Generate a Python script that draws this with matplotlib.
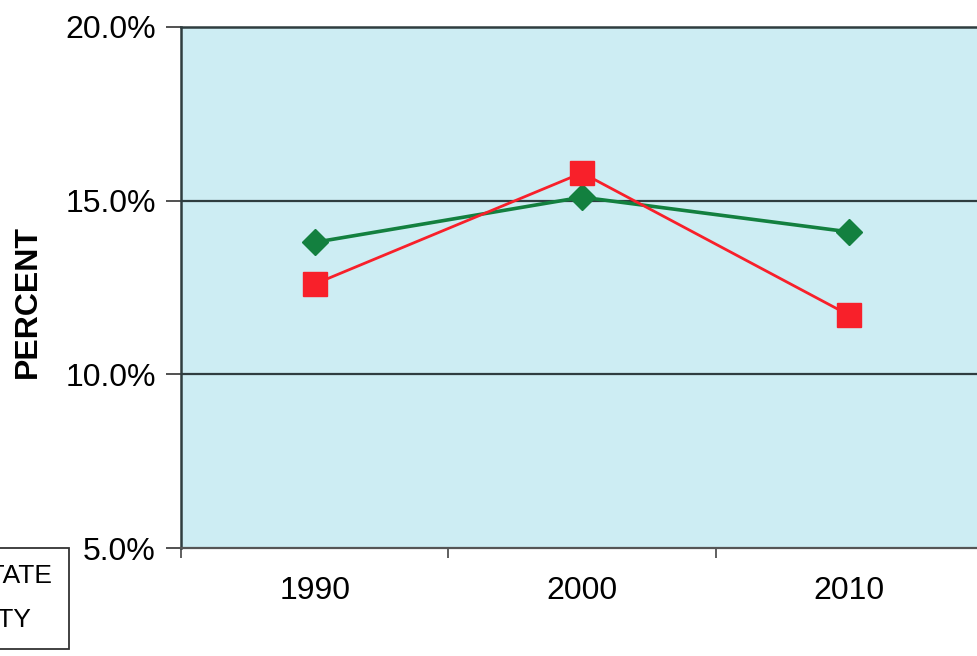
import matplotlib
matplotlib.use("Agg")
import matplotlib.pyplot as plt
from matplotlib.lines import Line2D
from matplotlib.ticker import FixedLocator, PercentFormatter

years = ["1990", "2000", "2010"]
state_pct = [13.8, 15.1, 14.1]
city_pct = [12.6, 15.8, 11.7]
series_labels = ["STATE", "CITY"]
y_ticks = [5.0, 10.0, 15.0, 20.0]

plt.rcParams["font.family"] = ["Liberation Sans", "DejaVu Sans"]

W, H = 977, 656
fig = plt.figure(figsize=(W / 100, H / 100), dpi=100)
fig.patch.set_facecolor("white")

left, right, top, bottom = 181, 983, 27, 548
ax = fig.add_axes([left / W, 1 - bottom / H, (right - left) / W, (bottom - top) / H])
ax.set_facecolor("#cdedf3")

x = list(range(len(years)))
green = "#13803f"
red = "#f8202a"
ax.plot(x, state_pct, color=green, lw=2.6, marker="D", markersize=13,
        markerfacecolor=green, markeredgecolor=green, zorder=4)
ax.plot(x, city_pct, color=red, lw=2.0, marker="s", markersize=17,
        markerfacecolor=red, markeredgecolor=red, zorder=5)

ax.set_xlim(-0.5, len(years) - 0.5)
ax.set_ylim(y_ticks[0], y_ticks[-1])

ax.set_yticks(y_ticks)
ax.yaxis.set_major_formatter(PercentFormatter(decimals=1))
ax.tick_params(axis="y", direction="out", length=11, width=1.2, color="#333",
               labelsize=23, pad=7)
ax.set_xticks(x)
ax.set_xticklabels(years)
ax.tick_params(axis="x", which="major", length=0, labelsize=23, pad=20)
ax.xaxis.set_minor_locator(FixedLocator([-0.5, 0.5, 1.5]))
ax.tick_params(axis="x", which="minor", direction="out", length=7, width=1.2,
               color="#444")

grid_c = "#2f3d3f"
for yv in y_ticks[1:-1]:
    ax.axhline(yv, color=grid_c, lw=1.6, zorder=2)

for side in ["left", "top"]:
    ax.spines[side].set_color(grid_c)
    ax.spines[side].set_linewidth(1.8)
ax.spines["bottom"].set_color("#555")
ax.spines["bottom"].set_linewidth(1.6)
ax.spines["right"].set_visible(False)

fig.text(28 / W, 1 - 301 / H, "PERCENT", rotation=90, fontsize=23,
         fontweight="bold", ha="center", va="center")

handles = [
    Line2D([], [], color=green, lw=2.6, marker="D", markersize=12),
    Line2D([], [], color=red, lw=2.0, marker="s", markersize=17),
]
leg = fig.legend(handles, series_labels, loc="upper right",
                 bbox_to_anchor=(69 / W, 1 - 548 / H),
                 bbox_transform=fig.transFigure, fontsize=19,
                 frameon=True, fancybox=False, borderpad=0.62,
                 labelspacing=0.75, handlelength=2.5, borderaxespad=0)
leg.get_frame().set_edgecolor("black")
leg.get_frame().set_linewidth(1.3)

fig.savefig("out.png", dpi=100, facecolor="white")
